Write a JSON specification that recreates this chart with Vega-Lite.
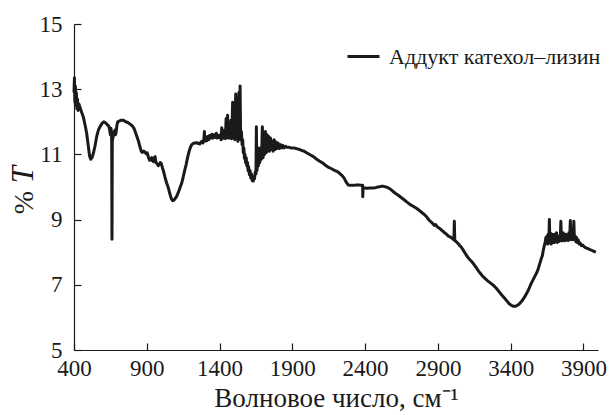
{
  "$schema": "https://vega.github.io/schema/vega-lite/v6.json",
  "width": 524,
  "height": 326,
  "autosize": {"type": "none"},
  "padding": {"left": 74, "top": 24, "right": 14, "bottom": 65},
  "background": "white",
  "config": {
    "view": {"stroke": null},
    "font": "Liberation Serif",
    "axis": {"grid": false, "domainColor": "#1a1a1a", "tickColor": "#1a1a1a", "domainWidth": 1.2, "tickWidth": 1.2, "labelColor": "#1a1a1a", "titleColor": "#1a1a1a", "labelFont": "Liberation Serif", "titleFont": "Liberation Serif", "titleFontWeight": "normal"}
  },
  "data": {"name": "spec", "values": [
    {"wn":400,"T":12.9},{"wn":403,"T":13.35},{"wn":406,"T":12.6},{"wn":409,"T":13.1},{"wn":412,"T":12.5},{"wn":416,"T":12.9},{"wn":420,"T":12.4},{"wn":424,"T":12.7},{"wn":428,"T":12.35},{"wn":433,"T":12.55},{"wn":441,"T":12.45},{"wn":452,"T":12.3},{"wn":464,"T":12.15},{"wn":476,"T":11.9},{"wn":487,"T":11.65},{"wn":497,"T":11.3},{"wn":507,"T":10.95},{"wn":515,"T":10.85},{"wn":524,"T":10.9},{"wn":534,"T":11.05},{"wn":544,"T":11.25},{"wn":556,"T":11.55},{"wn":568,"T":11.75},{"wn":579,"T":11.85},{"wn":592,"T":11.95},{"wn":605,"T":12.0},{"wn":613,"T":11.98},{"wn":622,"T":11.95},{"wn":630,"T":11.9},{"wn":638,"T":11.88},{"wn":645,"T":11.75},{"wn":650,"T":11.6},{"wn":654,"T":11.8},{"wn":657,"T":11.7},{"wn":659,"T":11.4},{"wn":661,"T":8.4},{"wn":663,"T":11.4},{"wn":667,"T":11.5},{"wn":672,"T":11.65},{"wn":678,"T":11.7},{"wn":682,"T":11.75},{"wn":686,"T":11.6},{"wn":690,"T":11.7},{"wn":695,"T":11.9},{"wn":700,"T":12.0},{"wn":710,"T":12.02},{"wn":725,"T":12.05},{"wn":739,"T":12.05},{"wn":755,"T":12.0},{"wn":770,"T":11.98},{"wn":785,"T":11.93},{"wn":800,"T":11.88},{"wn":812,"T":11.8},{"wn":822,"T":11.68},{"wn":832,"T":11.55},{"wn":842,"T":11.42},{"wn":852,"T":11.25},{"wn":862,"T":11.1},{"wn":870,"T":11.06},{"wn":878,"T":11.1},{"wn":886,"T":11.08},{"wn":895,"T":11.02},{"wn":903,"T":11.05},{"wn":912,"T":10.9},{"wn":920,"T":10.82},{"wn":928,"T":10.85},{"wn":935,"T":10.9},{"wn":940,"T":10.8},{"wn":945,"T":10.78},{"wn":951,"T":10.9},{"wn":957,"T":10.93},{"wn":963,"T":10.75},{"wn":970,"T":10.72},{"wn":979,"T":10.65},{"wn":986,"T":10.7},{"wn":993,"T":10.75},{"wn":1000,"T":10.72},{"wn":1007,"T":10.6},{"wn":1014,"T":10.5},{"wn":1025,"T":10.3},{"wn":1036,"T":10.13},{"wn":1048,"T":9.98},{"wn":1058,"T":9.8},{"wn":1068,"T":9.65},{"wn":1078,"T":9.58},{"wn":1088,"T":9.6},{"wn":1097,"T":9.66},{"wn":1106,"T":9.72},{"wn":1118,"T":9.85},{"wn":1130,"T":10.0},{"wn":1140,"T":10.12},{"wn":1150,"T":10.3},{"wn":1160,"T":10.5},{"wn":1170,"T":10.68},{"wn":1180,"T":10.9},{"wn":1190,"T":11.08},{"wn":1200,"T":11.22},{"wn":1209,"T":11.3},{"wn":1220,"T":11.34},{"wn":1232,"T":11.35},{"wn":1243,"T":11.36},{"wn":1255,"T":11.33},{"wn":1265,"T":11.32},{"wn":1272,"T":11.38},{"wn":1278,"T":11.4},{"wn":1285,"T":11.35},{"wn":1292,"T":11.45},{"wn":1296,"T":11.7},{"wn":1299,"T":11.4},{"wn":1305,"T":11.5},{"wn":1312,"T":11.42},{"wn":1318,"T":11.55},{"wn":1325,"T":11.45},{"wn":1332,"T":11.58},{"wn":1340,"T":11.5},{"wn":1348,"T":11.62},{"wn":1355,"T":11.5},{"wn":1362,"T":11.6},{"wn":1370,"T":11.52},{"wn":1378,"T":11.65},{"wn":1385,"T":11.5},{"wn":1392,"T":11.58},{"wn":1400,"T":11.52},{"wn":1406,"T":11.6},{"wn":1411,"T":11.45},{"wn":1415,"T":11.82},{"wn":1419,"T":11.48},{"wn":1425,"T":11.6},{"wn":1430,"T":11.5},{"wn":1436,"T":11.75},{"wn":1440,"T":11.48},{"wn":1445,"T":12.1},{"wn":1450,"T":11.55},{"wn":1455,"T":12.2},{"wn":1460,"T":11.5},{"wn":1466,"T":11.8},{"wn":1472,"T":11.5},{"wn":1478,"T":12.05},{"wn":1483,"T":11.48},{"wn":1490,"T":12.6},{"wn":1495,"T":11.5},{"wn":1500,"T":12.2},{"wn":1505,"T":11.45},{"wn":1511,"T":12.85},{"wn":1516,"T":11.5},{"wn":1520,"T":12.4},{"wn":1526,"T":11.4},{"wn":1533,"T":12.9},{"wn":1538,"T":11.5},{"wn":1541,"T":13.1},{"wn":1545,"T":11.45},{"wn":1550,"T":11.7},{"wn":1555,"T":11.3},{"wn":1559,"T":11.45},{"wn":1563,"T":11.05},{"wn":1567,"T":11.2},{"wn":1571,"T":10.88},{"wn":1575,"T":11.0},{"wn":1579,"T":10.75},{"wn":1583,"T":10.9},{"wn":1587,"T":10.65},{"wn":1592,"T":10.75},{"wn":1596,"T":10.5},{"wn":1600,"T":10.62},{"wn":1605,"T":10.38},{"wn":1610,"T":10.5},{"wn":1614,"T":10.28},{"wn":1619,"T":10.4},{"wn":1624,"T":10.2},{"wn":1628,"T":10.32},{"wn":1632,"T":10.18},{"wn":1636,"T":10.3},{"wn":1640,"T":10.25},{"wn":1645,"T":10.45},{"wn":1650,"T":10.4},{"wn":1653,"T":11.85},{"wn":1656,"T":10.5},{"wn":1662,"T":10.7},{"wn":1667,"T":10.65},{"wn":1672,"T":11.2},{"wn":1676,"T":10.75},{"wn":1682,"T":11.0},{"wn":1688,"T":10.85},{"wn":1694,"T":11.85},{"wn":1699,"T":10.9},{"wn":1704,"T":11.4},{"wn":1709,"T":11.0},{"wn":1715,"T":11.7},{"wn":1720,"T":11.05},{"wn":1727,"T":11.6},{"wn":1732,"T":11.1},{"wn":1738,"T":11.55},{"wn":1743,"T":11.1},{"wn":1750,"T":11.5},{"wn":1756,"T":11.15},{"wn":1762,"T":11.4},{"wn":1768,"T":11.1},{"wn":1775,"T":11.45},{"wn":1781,"T":11.15},{"wn":1788,"T":11.38},{"wn":1795,"T":11.18},{"wn":1802,"T":11.35},{"wn":1810,"T":11.18},{"wn":1818,"T":11.3},{"wn":1826,"T":11.2},{"wn":1834,"T":11.28},{"wn":1842,"T":11.2},{"wn":1852,"T":11.25},{"wn":1862,"T":11.22},{"wn":1875,"T":11.22},{"wn":1890,"T":11.2},{"wn":1905,"T":11.2},{"wn":1920,"T":11.19},{"wn":1935,"T":11.17},{"wn":1950,"T":11.15},{"wn":1965,"T":11.12},{"wn":1980,"T":11.1},{"wn":1995,"T":11.06},{"wn":2010,"T":11.02},{"wn":2025,"T":10.98},{"wn":2045,"T":10.93},{"wn":2065,"T":10.86},{"wn":2085,"T":10.8},{"wn":2100,"T":10.76},{"wn":2113,"T":10.72},{"wn":2130,"T":10.66},{"wn":2150,"T":10.6},{"wn":2170,"T":10.56},{"wn":2194,"T":10.5},{"wn":2210,"T":10.47},{"wn":2225,"T":10.42},{"wn":2240,"T":10.36},{"wn":2255,"T":10.28},{"wn":2270,"T":10.15},{"wn":2285,"T":10.06},{"wn":2300,"T":10.05},{"wn":2320,"T":10.05},{"wn":2340,"T":10.06},{"wn":2360,"T":10.06},{"wn":2375,"T":10.05},{"wn":2383,"T":10.05},{"wn":2384,"T":9.7},{"wn":2386,"T":9.98},{"wn":2400,"T":9.97},{"wn":2412,"T":9.96},{"wn":2430,"T":9.97},{"wn":2450,"T":9.97},{"wn":2470,"T":9.98},{"wn":2490,"T":10.0},{"wn":2510,"T":10.02},{"wn":2526,"T":10.02},{"wn":2545,"T":10.0},{"wn":2560,"T":9.97},{"wn":2575,"T":9.93},{"wn":2590,"T":9.87},{"wn":2610,"T":9.8},{"wn":2630,"T":9.74},{"wn":2650,"T":9.67},{"wn":2670,"T":9.6},{"wn":2690,"T":9.53},{"wn":2710,"T":9.46},{"wn":2730,"T":9.41},{"wn":2755,"T":9.34},{"wn":2775,"T":9.27},{"wn":2800,"T":9.18},{"wn":2820,"T":9.1},{"wn":2840,"T":8.98},{"wn":2855,"T":8.92},{"wn":2865,"T":8.88},{"wn":2875,"T":8.82},{"wn":2885,"T":8.85},{"wn":2895,"T":8.78},{"wn":2905,"T":8.75},{"wn":2915,"T":8.72},{"wn":2925,"T":8.68},{"wn":2938,"T":8.63},{"wn":2950,"T":8.58},{"wn":2960,"T":8.55},{"wn":2970,"T":8.5},{"wn":2980,"T":8.48},{"wn":2990,"T":8.45},{"wn":3000,"T":8.42},{"wn":3010,"T":8.38},{"wn":3013,"T":8.95},{"wn":3016,"T":8.36},{"wn":3025,"T":8.33},{"wn":3035,"T":8.28},{"wn":3045,"T":8.24},{"wn":3050,"T":8.2},{"wn":3058,"T":8.17},{"wn":3066,"T":8.12},{"wn":3076,"T":8.05},{"wn":3090,"T":7.95},{"wn":3105,"T":7.85},{"wn":3120,"T":7.77},{"wn":3135,"T":7.7},{"wn":3145,"T":7.64},{"wn":3160,"T":7.55},{"wn":3175,"T":7.45},{"wn":3190,"T":7.36},{"wn":3205,"T":7.28},{"wn":3220,"T":7.21},{"wn":3240,"T":7.13},{"wn":3260,"T":7.06},{"wn":3280,"T":6.99},{"wn":3300,"T":6.9},{"wn":3320,"T":6.79},{"wn":3340,"T":6.68},{"wn":3360,"T":6.58},{"wn":3375,"T":6.5},{"wn":3390,"T":6.42},{"wn":3405,"T":6.37},{"wn":3420,"T":6.34},{"wn":3435,"T":6.34},{"wn":3450,"T":6.38},{"wn":3465,"T":6.44},{"wn":3480,"T":6.52},{"wn":3495,"T":6.62},{"wn":3510,"T":6.74},{"wn":3522,"T":6.84},{"wn":3535,"T":6.98},{"wn":3550,"T":7.12},{"wn":3565,"T":7.25},{"wn":3580,"T":7.38},{"wn":3590,"T":7.5},{"wn":3600,"T":7.65},{"wn":3610,"T":7.8},{"wn":3618,"T":7.9},{"wn":3625,"T":8.08},{"wn":3631,"T":8.2},{"wn":3637,"T":8.3},{"wn":3642,"T":8.45},{"wn":3646,"T":8.3},{"wn":3650,"T":8.5},{"wn":3654,"T":8.25},{"wn":3658,"T":8.55},{"wn":3662,"T":8.3},{"wn":3666,"T":9.0},{"wn":3669,"T":8.3},{"wn":3673,"T":8.6},{"wn":3677,"T":8.25},{"wn":3681,"T":8.5},{"wn":3685,"T":8.28},{"wn":3689,"T":8.55},{"wn":3693,"T":8.3},{"wn":3697,"T":8.45},{"wn":3701,"T":8.3},{"wn":3705,"T":8.55},{"wn":3710,"T":8.35},{"wn":3715,"T":8.6},{"wn":3720,"T":8.3},{"wn":3725,"T":8.5},{"wn":3730,"T":8.33},{"wn":3735,"T":8.5},{"wn":3740,"T":8.35},{"wn":3745,"T":8.95},{"wn":3749,"T":8.35},{"wn":3753,"T":8.55},{"wn":3757,"T":8.35},{"wn":3761,"T":8.6},{"wn":3765,"T":8.38},{"wn":3770,"T":8.5},{"wn":3775,"T":8.35},{"wn":3780,"T":8.55},{"wn":3785,"T":8.4},{"wn":3790,"T":8.52},{"wn":3795,"T":8.36},{"wn":3800,"T":8.6},{"wn":3805,"T":8.38},{"wn":3810,"T":8.97},{"wn":3814,"T":8.4},{"wn":3818,"T":8.6},{"wn":3822,"T":8.38},{"wn":3826,"T":8.55},{"wn":3830,"T":8.4},{"wn":3834,"T":8.95},{"wn":3838,"T":8.38},{"wn":3843,"T":8.5},{"wn":3848,"T":8.32},{"wn":3853,"T":8.45},{"wn":3858,"T":8.3},{"wn":3864,"T":8.38},{"wn":3870,"T":8.25},{"wn":3878,"T":8.28},{"wn":3886,"T":8.2},{"wn":3895,"T":8.22},{"wn":3905,"T":8.17},{"wn":3915,"T":8.14},{"wn":3925,"T":8.12},{"wn":3935,"T":8.1},{"wn":3945,"T":8.08},{"wn":3955,"T":8.06},{"wn":3965,"T":8.04},{"wn":3975,"T":8.02},{"wn":3985,"T":8.0}
  ]},
  "transform": [{"calculate": "'Аддукт катехол–лизин'", "as": "series"}],
  "layer": [
    {
      "mark": {"type": "line", "strokeWidth": 3, "strokeJoin": "round", "interpolate": "linear"},
      "encoding": {
        "x": {"field": "wn", "type": "quantitative",
          "scale": {"domain": [400, 4000], "nice": false, "zero": false},
          "axis": {"values": [400, 900, 1400, 1900, 2400, 2900, 3400, 3900], "format": "d", "tickSize": -7, "labelPadding": 14, "labelFontSize": 23, "labelFlush": false, "labelOverlap": false,
            "title": "Волновое число, см⁻¹", "titleFontSize": 27, "titleBaseline": "alphabetic", "titleAlign": "center", "titleX": 262, "titleY": 56}},
        "y": {"field": "T", "type": "quantitative",
          "scale": {"domain": [5, 15], "nice": false, "zero": false},
          "axis": {"values": [5, 7, 9, 11, 13, 15], "tickSize": -7, "labelPadding": 19, "labelFontSize": 23, "labelFlush": false, "labelOverlap": false,
            "title": "%", "titleFontSize": 28, "titleX": -42, "titleY": 178, "titleBaseline": "alphabetic", "titleAlign": "center", "titleAngle": -90}},
        "color": {"field": "series", "type": "nominal", "scale": {"range": ["#1a1a1a"]},
          "legend": {"title": null, "orient": "none", "legendX": 272, "legendY": 15, "symbolType": "stroke", "symbolSize": 1024, "symbolStrokeWidth": 3, "labelFontSize": 22, "labelFont": "Liberation Serif", "labelColor": "#1a1a1a", "labelOffset": 8, "labelLimit": 400, "padding": 0}}
      }
    },
    {
      "mark": {"type": "line", "opacity": 0},
      "encoding": {
        "x": {"field": "wn", "type": "quantitative"},
        "y": {"field": "T", "type": "quantitative",
          "axis": {"orient": "left", "labels": false, "ticks": false, "domain": false, "title": "T", "titleFontSize": 31, "titleFontStyle": "italic", "titleX": -42, "titleY": 150, "titleBaseline": "alphabetic", "titleAlign": "center", "titleAngle": -90}}
      }
    }
  ],
  "resolve": {"axis": {"y": "independent"}}
}
